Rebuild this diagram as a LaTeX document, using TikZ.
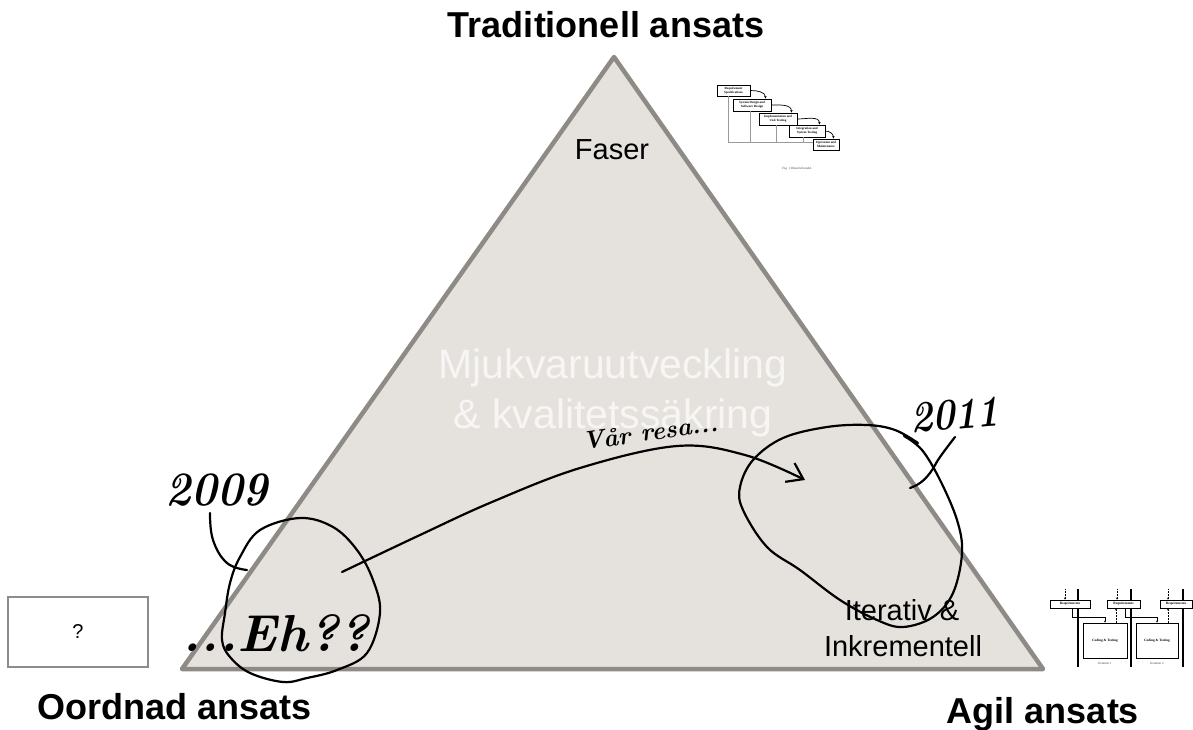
\documentclass[tikz,border=0pt]{standalone}
\usepackage{fontspec}
\newfontfamily\arial{Liberation Sans}
\newfontfamily\tnr{Liberation Serif}
\usetikzlibrary{arrows.meta}
\definecolor{trifill}{HTML}{E5E2DE}
\definecolor{tridraw}{HTML}{8E8A85}
\definecolor{boxdraw}{HTML}{8C8C8C}
\definecolor{mjuk}{HTML}{F7F6F5}
\definecolor{fbgray}{HTML}{9A9A9A}
\tikzset{
  title/.style={font=\arial\bfseries\fontsize{36}{43}\selectfont, anchor=base, inner sep=0},
  lbl/.style={font=\arial\fontsize{29}{36}\selectfont, inner sep=0},
  mj/.style={font=\arial\fontsize{41}{50}\selectfont, text=mjuk, anchor=base, inner sep=0},
  hand/.style={inner sep=0},
  ink/.style={line width=2.2pt, line cap=round, line join=round},
  tri/.style={draw=tridraw, fill=trifill, line width=4.5pt, line join=round},
  wfbox/.style={draw=black, line width=0.9pt, fill=white, inner sep=0, align=center,
    font=\tnr\bfseries\fontsize{3.2}{3.6}\selectfont},
  wfarr/.style={line width=0.7pt, -{Stealth[length=2.5pt,width=2.5pt]}},
  fbline/.style={draw=fbgray, line width=0.8pt},
  itbox/.style={draw=black, line width=0.8pt, fill=white, inner sep=0, align=center,
    font=\tnr\bfseries\fontsize{3.4}{3.8}\selectfont},
  itline/.style={line width=1.2pt},
  itarr/.style={line width=0.5pt, -{Stealth[length=2pt,width=2pt]}},
  tiny/.style={font=\tnr\fontsize{3.2}{3.6}\selectfont, inner sep=0, text=black!75}
}
\begin{document}
\begin{tikzpicture}[x=1pt,y=-1pt]
\useasboundingbox (0,0) rectangle (1193,730);
\fill[white] (0,0) rectangle (1193,730);

% triangle
\coordinate (apex) at (614,57);
\coordinate (bl) at (182,669);
\coordinate (br) at (1043,669);
\draw[tri] (apex) -- (br) -- (bl) -- cycle;

% titles
\node[title] (trad) at (606,38) {Traditionell ansats};
\node[title] (oord) at (175,719) {Oordnad ansats};
\node[title] (agil) at (1043,723) {Agil ansats};

% inner labels
\node[lbl] (faser) at (612,150) {Faser};
\node[mj] (mj1) at (613,378) {Mjukvaruutveckling};
\node[mj] (mj2) at (613,428) {\& kvalitetssäkring};
\node[lbl, anchor=base] (it1) at (902,620) {Iterativ \&};
\node[lbl, anchor=base] (it2) at (903,656) {Inkrementell};

% question box
\node[draw=boxdraw, line width=1.2pt, minimum width=140pt, minimum height=70pt,
      font=\arial\fontsize{20}{24}\selectfont, inner sep=0] (q) at (78,632) {?};

% waterfall picture
\node[wfbox, minimum width=33pt, minimum height=11pt] (B1) at (733.5,90.5) {Requirement\\Specifications};
\node[wfbox, minimum width=38pt, minimum height=12pt] (B2) at (752,105) {System Design and\\Software Design};
\node[wfbox, minimum width=38pt, minimum height=12pt] (B3) at (778,119) {Implementation and\\Unit Testing};
\node[wfbox, minimum width=36pt, minimum height=12pt] (B4) at (807,131) {Integration and\\System Testing};
\node[wfbox, minimum width=26pt, minimum height=11pt] (B5) at (826,144.5) {Operation and\\Maintenance};
\draw[wfarr] (B1.east) to[out=0,in=90] ([xshift=-6pt]B2.north east);
\draw[wfarr] (B2.east) to[out=0,in=90] ([xshift=-6pt]B3.north east);
\draw[wfarr] (B3.east) to[out=0,in=90] ([xshift=-6pt]B4.north east);
\draw[wfarr] (B4.east) to[out=0,in=90] ([xshift=-6pt]B5.north east);
\coordinate (fb1) at (728,142);
\coordinate (fb2) at (750,142);
\coordinate (fb3) at (776,142);
\coordinate (fb4) at (803,142);
\draw[fbline] (fb1) -- (fb1 -| B5.west);
\draw[fbline] (fb1) -- (fb1 |- B1.south);
\draw[fbline] (fb2) -- (fb2 |- B2.south);
\draw[fbline] (fb3) -- (fb3 |- B3.south);
\draw[fbline] (fb4) -- (fb4 |- B4.south);
\node[tiny] (cap) at (797,169) {Fig. 1 Waterfall model};

% iterative picture
\coordinate (v1t) at (1078,589); \coordinate (v1b) at (1078,667);
\coordinate (v2t) at (1131,589); \coordinate (v2b) at (1131,667);
\coordinate (v3t) at (1183,589); \coordinate (v3b) at (1183,667);
\draw[itline] (v1t) -- (v1b);
\draw[itline] (v2t) -- (v2b);
\draw[itline] (v3t) -- (v3b);
\node[itbox, minimum width=40pt, minimum height=8pt] (R1) at (1070,604) {Requirements};
\node[itbox, minimum width=33pt, minimum height=8pt] (R2) at (1123.5,604) {Requirements};
\node[itbox, minimum width=32pt, minimum height=8pt] (R3) at (1176,604) {Requirements};
\node[itbox, minimum width=44pt, minimum height=35pt] (C1) at (1105,640.5) {Coding \& Testing};
\node[itbox, minimum width=42pt, minimum height=35pt] (C2) at (1157,640.5) {Coding \& Testing};
\coordinate (d1) at (1065,589); \coordinate (d2) at (1117,589); \coordinate (d3) at (1168,589);
\draw[itarr, densely dotted] (d1) -- (d1 |- R1.north);
\draw[itarr, densely dotted] (d2) -- (d2 |- R2.north);
\draw[itarr, densely dotted] (d3) -- (d3 |- R3.north);
\draw[itarr] ([xshift=2pt]R1.south) -- ++(0,9) -| (C1.north);
\draw[itarr] ([xshift=1.5pt]R2.south) -- ++(0,9) -| (C2.north);
\draw[itarr, densely dotted] ([xshift=11pt]C1.north) -- ([xshift=11pt]C1.north |- R2.south);
\draw[itarr, densely dotted] ([xshift=11pt]C2.north) -- ([xshift=11pt]C2.north |- R3.south);
\node[tiny] (itl1) at (1105,663) {Iteration 1};
\node[tiny] (itl2) at (1157,663) {Iteration 2};

% handwriting
\node[hand, font=\bfseries\itshape\fontsize{48}{56}\selectfont, xscale=0.9] (y2009) at (217,490) {2009};
\node[hand, font=\bfseries\itshape\fontsize{44}{52}\selectfont, xscale=0.85, rotate=4] (y2011) at (955,415) {2011};
\node[hand, font=\bfseries\itshape\fontsize{52}{60}\selectfont, anchor=base] (eh) at (276,651) {...Eh??};
\node[hand, font=\bfseries\itshape\fontsize{25}{30}\selectfont, rotate=8] (resa) at (650,432) {Vår resa...};

% left loop
\draw[ink] plot[smooth cycle, tension=0.6] coordinates {
  (300,518) (260,530) (240,557) (230,583) (225,613) (222,640) (230,657)
  (250,673) (283,682) (307,678) (337,670) (367,653) (380,613) (373,580)
  (357,550) (333,527)};
% 2009 leader
\coordinate (l09a) at (210,513);
\coordinate (l09b) at (247,570);
\draw[ink] plot[smooth, tension=0.7] coordinates {(l09a) (213,540) (227,563) (l09b)};

% journey arrow
\coordinate (ja) at (342,572);
\coordinate (jb) at (805,480);
\draw[ink, -{Straight Barb[length=15pt,width=21pt,line width=2.2pt]}]
  plot[smooth, tension=0.6] coordinates {(ja) (420,535) (492,502) (580,468) (677,446) (745,455) (jb)};

% right loop
\draw[ink] plot[smooth, tension=0.6] coordinates {
  (918,443) (895,430) (867,425) (827,427) (783,438) (753,460) (740,487)
  (743,510) (767,547) (800,570) (840,600) (877,620) (903,627) (933,617)
  (953,593) (962,553) (957,520) (940,480) (922,450) (904,436)};
% 2011 leader
\coordinate (l11a) at (955,437);
\coordinate (l11b) at (910,488);
\draw[ink] plot[smooth, tension=0.7] coordinates {(l11a) (940,457) (930,473) (920,483) (l11b)};
\end{tikzpicture}
\end{document}
